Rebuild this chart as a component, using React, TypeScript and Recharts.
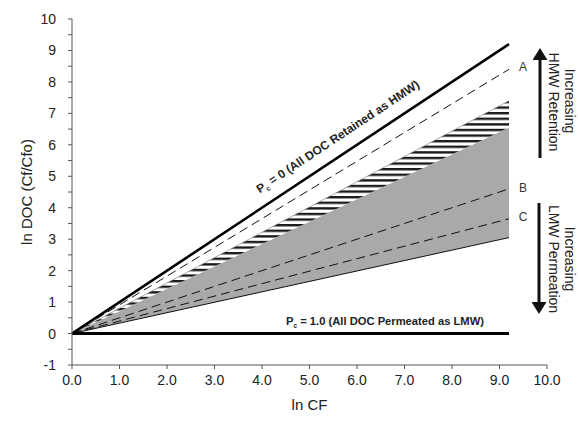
import { ComposedChart, Line, Area, XAxis, YAxis, Label } from 'recharts';

// ln CF endpoints (all curves are straight lines from the origin)
const lnCF = [0, 9.2];
const hmwLimit = [0, 9.2]; // Pc = 0
const curveA = [0, 8.4];
const hatchTop = [0, 7.4];
const grayTop = [0, 6.55];
const curveB = [0, 4.6];
const curveC = [0, 3.65];
const grayBottom = [0, 3.05];
const lmwLimit = [0, 0]; // Pc = 1.0

const xTicks = [0, 1, 2, 3, 4, 5, 6, 7, 8, 9, 10];
const yTicks = [-1, -0.5, 0, 0.5, 1, 1.5, 2, 2.5, 3, 3.5, 4, 4.5, 5, 5.5, 6, 6.5, 7, 7.5, 8, 8.5, 9, 9.5, 10];

const rows = lnCF.map((x, i) => ({
  x,
  hmw: hmwLimit[i],
  a: curveA[i],
  hatch: [grayTop[i], hatchTop[i]],
  hatchEdge: hatchTop[i],
  gray: [grayBottom[i], grayTop[i]],
  grayEdge: grayBottom[i],
  b: curveB[i],
  c: curveC[i],
  lmw: lmwLimit[i],
}));

const FONT = '"Liberation Sans", Arial, sans-serif';
const W = 578;
const H = 422;

export default function App() {
  const tickStyle = { fontSize: 14, fill: '#222', fontFamily: FONT };
  return (
    <div style={{ position: 'absolute', left: 0, top: 0, width: W, height: H, background: '#fff' }}>
      <svg width={0} height={0} style={{ position: 'absolute' }}>
        <defs>
          <pattern id="hstripes" patternUnits="userSpaceOnUse" width={8} height={5.6}>
            <rect x={0} y={0} width={8} height={5.6} fill="#fff" />
            <rect x={0} y={0} width={8} height={2.4} fill="#1a1a1a" />
          </pattern>
        </defs>
      </svg>
      <ComposedChart
        width={W}
        height={H}
        data={rows}
        margin={{ top: 19, right: 31, bottom: 27, left: 12 }}
        style={{ fontFamily: FONT }}
      >
        <XAxis
          type="number"
          dataKey="x"
          domain={[0, 10]}
          ticks={xTicks}
          tickFormatter={(v: number) => v.toFixed(1)}
          tick={tickStyle}
          tickSize={4}
          tickMargin={6}
          stroke="#555"
          height={30}
        >
          <Label value="ln CF" position="insideBottom" offset={-15} style={{ fontSize: 15, fill: '#222', fontFamily: FONT }} />
        </XAxis>
        <YAxis
          type="number"
          domain={[-1, 10]}
          ticks={yTicks}
          interval={0}
          tickFormatter={(v: number) => (Number.isInteger(v) ? String(v) : '')}
          tick={tickStyle}
          tickSize={4}
          tickMargin={12}
          stroke="#555"
          width={60}
        >
          <Label
            value="ln DOC (Cf/Cfo)"
            angle={-90}
            position="insideLeft"
            offset={15}
            style={{ fontSize: 15, fill: '#222', fontFamily: FONT, textAnchor: 'middle' }}
          />
        </YAxis>
        <Area dataKey="gray" type="linear" fill="#a9a9a9" fillOpacity={1} stroke="none" isAnimationActive={false} />
        <Area dataKey="hatch" type="linear" fill="url(#hstripes)" fillOpacity={1} stroke="none" isAnimationActive={false} />
        <Line dataKey="hatchEdge" type="linear" stroke="#777" strokeWidth={0.6} dot={false} isAnimationActive={false} />
        <Line dataKey="grayEdge" type="linear" stroke="#111" strokeWidth={1} dot={false} isAnimationActive={false} />
        <Line dataKey="a" type="linear" stroke="#111" strokeWidth={1} strokeDasharray="9 5" dot={false} isAnimationActive={false} />
        <Line dataKey="b" type="linear" stroke="#111" strokeWidth={1} strokeDasharray="9 5" dot={false} isAnimationActive={false} />
        <Line dataKey="c" type="linear" stroke="#111" strokeWidth={1} strokeDasharray="9 5" dot={false} isAnimationActive={false} />
        <Line dataKey="hmw" type="linear" stroke="#000" strokeWidth={2.6} dot={false} isAnimationActive={false} />
        <Line dataKey="lmw" type="linear" stroke="#000" strokeWidth={3} dot={false} isAnimationActive={false} />
      </ComposedChart>
      <svg width={W} height={H} style={{ position: 'absolute', left: 0, top: 0, pointerEvents: 'none' }}>
        <defs>
          <marker id="arrowHead" markerWidth={4} markerHeight={5} refX={2} refY={2.5} orient="auto" markerUnits="strokeWidth">
            <path d="M0,0 L4,2.5 L0,5 Z" fill="#111" />
          </marker>
        </defs>
        <text
          x={340}
          y={140}
          transform="rotate(-33.6 340 140)"
          textAnchor="middle"
          style={{ fontSize: 12, fontWeight: 'bold', fill: '#222', fontFamily: FONT }}
        >
          P<tspan fontSize={7} dy={3}>c</tspan>
          <tspan dy={-3}> = 0 (All DOC Retained as HMW)</tspan>
        </text>
        <text
          x={385}
          y={325}
          textAnchor="middle"
          style={{ fontSize: 11.2, fontWeight: 'bold', fill: '#222', fontFamily: FONT }}
        >
          P<tspan fontSize={6.5} dy={3}>c</tspan>
          <tspan dy={-3}> = 1.0 (All DOC Permeated as LMW)</tspan>
        </text>
        <g style={{ fontSize: 12, fill: '#333', fontFamily: FONT }} textAnchor="middle">
          <text x={523} y={71}>A</text>
          <text x={523} y={192}>B</text>
          <text x={523} y={221}>C</text>
        </g>
        <line x1={540} y1={158} x2={540} y2={54} stroke="#111" strokeWidth={3} markerEnd="url(#arrowHead)" />
        <line x1={539} y1={203} x2={539} y2={308} stroke="#111" strokeWidth={3} markerEnd="url(#arrowHead)" />
        <g style={{ fontSize: 14, fill: '#222', fontFamily: FONT }} textAnchor="middle">
          <text x={565} y={101} transform="rotate(90 565 101)">Increasing</text>
          <text x={549} y={102} transform="rotate(90 549 102)">HMW Retention</text>
          <text x={565} y={259} transform="rotate(90 565 259)">Increasing</text>
          <text x={549} y={259} transform="rotate(90 549 259)">LMW Permeation</text>
        </g>
      </svg>
    </div>
  );
}
